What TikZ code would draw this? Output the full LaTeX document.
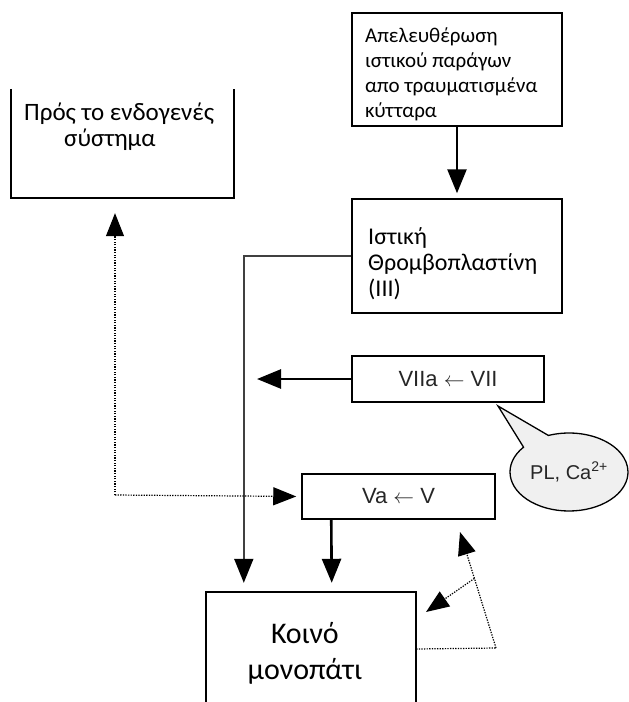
\documentclass[tikz,border=0pt]{standalone}
\usepackage{fontspec}
\setmainfont{Carlito}
\newfontfamily\arialf{Liberation Sans}
\usetikzlibrary{arrows.meta,shapes.callouts,calc}
\tikzset{
  framebox/.style={draw=black, line width=1.5pt, rectangle, inner sep=0pt},
  bigarrow/.style={line width=2.6pt, -{Triangle[length=24pt,width=19pt]}},
  thinarrow/.style={line width=1.8pt, draw=black!75, -{Triangle[length=24pt,width=19pt,fill=black,color=black]}},
  dotline/.style={line width=1.2pt, dash pattern=on 1.3pt off 1.3pt},
  dotarrow/.style={dotline, -{Triangle[length=23pt,width=18pt,fill=black,color=black]}},
  greektext/.style={font=\fontsize{21}{25}\selectfont, align=left, text=black, inner sep=0pt},
  vlabel/.style={font=\arialf\fontsize{22}{24}\selectfont, text=black!85},
}
\begin{document}
\begin{tikzpicture}[x=1pt,y=-1pt]
\useasboundingbox (0,0) rectangle (629,702);
% boxes
\node[framebox, minimum width=210, minimum height=113] (rel) at (457,69.5) {};
\node[greektext, anchor=west] (relt) at (365,74)
  {Απελευθέρωση\\ιστικού παράγων\\απο τραυματισμένα\\κύτταρα};
\node[framebox, minimum width=210, minimum height=114] (ist) at (457,256) {};
\node[greektext, font=\fontsize{24}{26}\selectfont, anchor=west] (istt) at (368,264)
  {Ιστική\\Θρομβοπλαστίνη\\(III)};
\node[framebox, minimum width=192, minimum height=46, vlabel] (v7) at (448,379)
  {VIIa $\leftarrow$ VII};
\node[framebox, minimum width=193, minimum height=45, vlabel] (va) at (398.5,496.5)
  {Va $\leftarrow$ V};
% open boxes
\node[minimum width=223, minimum height=109, inner sep=0pt] (lb) at (122.5,143.5) {};
\draw[line width=1.5pt] (lb.north west) |- (lb.south east) -- (lb.north east);
\node[greektext, font=\fontsize{25}{26}\selectfont, anchor=north west] (lbt) at (24,103)
  {Πρός το ενδογενές\\\hspace{40pt}σύστημα};
\node[minimum width=210, minimum height=114, inner sep=0pt] (koino) at (311,649) {};
\draw[line width=1.5pt] (koino.south west) |- (koino.north east) -- (koino.south east);
\node[font=\fontsize{30}{36}\selectfont, align=center] (kt) at (305,653) {Κοινό\\μονοπάτι};
% callout
\coordinate (ptr) at (498,406);
\node[ellipse callout, draw=black, fill=black!6, line width=1.3pt, minimum width=118pt,
      minimum height=78pt, inner sep=0pt, callout absolute pointer={(ptr)},
      callout pointer arc=30, font=\arialf\fontsize{20}{22}\selectfont, text=black!85]
  (pl) at (569,472) {PL, Ca\textsuperscript{2+}};
% connectors
\draw[bigarrow, shorten >=5pt] (rel.south) -- (ist.north);
\coordinate (v7tip) at (257,379);
\draw[bigarrow] (v7.west) -- (v7tip);
\draw[thinarrow, shorten >=9pt] (ist.west) -| ($(koino.north west)+(38,0)$);
\draw[bigarrow, shorten >=9pt] ($(va.south west)+(30,0)$) -- ($(koino.north west)+(126,0)$);
\coordinate (dc) at (115,495);
\draw[dotarrow, shorten >=15pt] (dc) -- (dc |- lb.south);
\draw[dotarrow, shorten >=5pt] (dc) -- (va.west);
\coordinate (fb1) at (496,648);
\coordinate (fbtip) at (460,532);
\coordinate (fbtip2) at (426,612);
\draw[dotline] (koino.east) -- (fb1);
\draw[dotarrow] (fb1) -- (fbtip);
\draw[dotarrow] ($(fb1)!0.6!(fbtip)$) -- (fbtip2);
\end{tikzpicture}
\end{document}
